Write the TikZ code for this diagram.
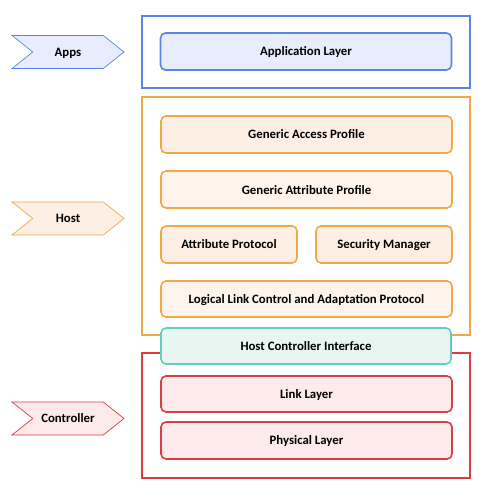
\documentclass[tikz,border=0pt]{standalone}
\usepackage{fontspec}
\setmainfont{Carlito}
\usetikzlibrary{shapes.symbols}

\definecolor{appline}{HTML}{5B84E6}
\definecolor{appfill}{HTML}{E8ECFC}
\definecolor{hostline}{HTML}{F0A848}
\definecolor{hostfill}{HTML}{FDEFE4}
\definecolor{hciline}{HTML}{66CCBB}
\definecolor{hcifill}{HTML}{E8F6F2}
\definecolor{ctrlline}{HTML}{DC3C44}
\definecolor{ctrlfill}{HTML}{FDEAEB}

\tikzset{
    frame/.style={draw=#1, line width=1.8pt, fill=white, minimum width=328pt, inner sep=0pt},
    layer/.style={draw=#1, line width=1.6pt, rounded corners=5pt, minimum height=37pt,
        minimum width=291pt, inner sep=0pt, text depth=0pt,
        font=\bfseries\fontsize{12.8}{14}\selectfont},
    tag/.style={signal, signal from=west, signal to=east, signal pointer angle=77,
        draw=#1, line width=0.7pt, minimum width=112pt, minimum height=33pt, inner sep=0pt,
        text depth=0pt, font=\bfseries\fontsize{12.8}{14}\selectfont}
}

\begin{document}
\begin{tikzpicture}[x=1pt, y=-1pt]
    \useasboundingbox (0,0) rectangle (486,494);

    % Outer frames
    \node[frame=appline, minimum height=72pt] (appbox) at (306, 52) {};
    \node[frame=hostline, minimum height=238pt] (hostbox) at (306, 216) {};
    \node[frame=ctrlline, minimum height=125pt] (ctrlbox) at (306, 415.5) {};

    % Side tags
    \node[tag=appline, fill=appfill] (apps) at (68, 52) {Apps};
    \node[tag=hostline, fill=hostfill] (host) at (68, 218.5) {Host};
    \node[tag=ctrlline, fill=ctrlfill] (ctrl) at (68, 418.5) {Controller};

    % Apps layers
    \node[layer=appline, fill=appfill] (app) at (306, 51.5) {Application Layer};

    % Host layers
    \node[layer=hostline, fill=hostfill] (gap) at (306.5, 134.5) {Generic Access Profile};
    \node[layer=hostline, fill=hostfill!70] (gatt) at (306.5, 189.5) {Generic Attribute Profile};
    \node[layer=hostline, fill=hostfill, minimum width=136pt] (att) at (229, 244.5) {Attribute Protocol};
    \node[layer=hostline, fill=hostfill, minimum width=136pt] (sm) at (384, 244.5) {Security Manager};
    \node[layer=hostline, fill=hostfill!70, minimum height=36pt] (l2cap) at (306.5, 299) {Logical Link Control and Adaptation Protocol};

    % Interface between host and controller
    \node[layer=hciline, fill=hcifill, minimum width=290pt, minimum height=36pt] (hci) at (306, 346) {Host Controller Interface};

    % Controller layers
    \node[layer=ctrlline, fill=ctrlfill, minimum height=36pt] (ll) at (306.5, 394) {Link Layer};
    \node[layer=ctrlline, fill=ctrlfill] (phy) at (306.5, 440.5) {Physical Layer};
\end{tikzpicture}
\end{document}
